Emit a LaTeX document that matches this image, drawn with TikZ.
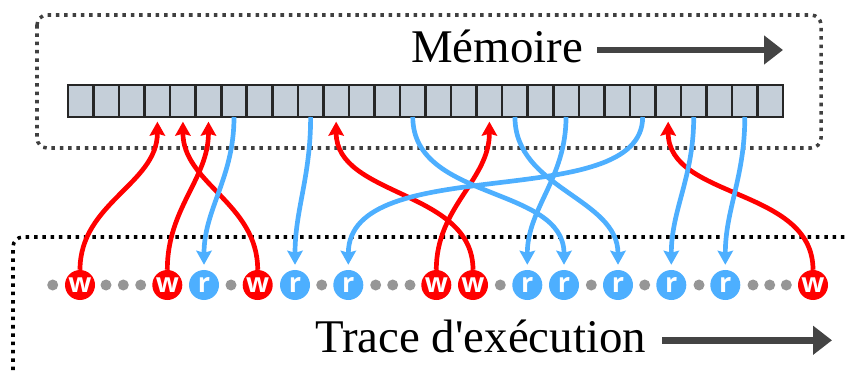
\documentclass[tikz,border=0pt]{standalone}
\usepackage{fontspec}
\setmainfont{Liberation Serif}
\newfontfamily\tagfont{Open Sans}
\usetikzlibrary{arrows.meta}

\definecolor{wred}{RGB}{255,0,0}
\definecolor{rblue}{RGB}{77,175,255}
\definecolor{cellgray}{RGB}{197,207,217}
\definecolor{idlegray}{RGB}{150,150,150}
\definecolor{flowgray}{RGB}{68,68,68}

\tikzstyle{cell} = [rectangle, draw=black!85, line width=2.2pt, fill=cellgray,
minimum width=0.766cm, minimum height=0.96cm, inner sep=0pt, outer sep=0pt]
\tikzstyle{wnode} = [circle, fill=wred, minimum size=0.9cm, inner sep=0pt,
text=white, font=\tagfont\bfseries\fontsize{23}{23}\selectfont]
\tikzstyle{rnode} = [circle, fill=rblue, minimum size=0.9cm, inner sep=0pt,
text=white, font=\tagfont\bfseries\fontsize{23}{23}\selectfont]
\tikzstyle{idle} = [circle, fill=idlegray, minimum size=0.33cm, inner sep=0pt]
\tikzstyle{warrow} = [wred, line width=4pt, shorten >=0.14cm,
-{Stealth[length=0.42cm, width=0.46cm, inset=0.06cm]}]
\tikzstyle{rarrow} = [rblue, line width=4pt, shorten >=0.15cm,
-{Stealth[length=0.42cm, width=0.46cm, inset=0.06cm]}]
\tikzstyle{zone} = [line width=3pt, dash pattern=on 3pt off 4.1pt, rounded corners=0.3cm]
\tikzstyle{flow} = [flowgray, line width=5.8pt, -{Triangle[length=0.57cm, width=0.84cm]}]
\tikzstyle{heading} = [font=\fontsize{40}{40}\selectfont, anchor=base west, inner sep=0pt]

\begin{document}
\begin{tikzpicture}[x=0.03cm, y=-0.03cm]

  \useasboundingbox (0,0) rectangle (846,374);
  \clip (0,0) rectangle (846,374);

  % frames
  \draw [zone, black!75] (37,15) rectangle (821,148);
  \draw [zone, black] (13,420) |- (900,237);

  % memory
  \foreach \i in {0,...,27}
    \node (m\i) [cell] at ({68+25.54*(\i+0.5)},101) {};

  \node (memtitle) [heading] at (411,62.7) {Mémoire};
  \coordinate (memfrom) at (597,50);
  \coordinate (memto) at (783,50);
  \draw [flow] (memfrom) -- (memto);

  % execution trace
  \foreach \x [count=\i] in {52.7,106,123.3,140.7,231,321.7,375.7,392.7,410,
                             500.3,591.3,644.7,699,753,769.7,786.3}
    \node (d\i) [idle] at (\x,285) {};

  \node (w1) [wnode] at (80,285) {w};
  \node (w2) [wnode] at (167.3,285) {w};
  \node (r1) [rnode] at (204,285) {r};
  \node (w3) [wnode] at (257.7,285) {w};
  \node (r2) [rnode] at (295,285) {r};
  \node (r3) [rnode] at (348.3,285) {r};
  \node (w4) [wnode] at (436.3,285) {w};
  \node (w5) [wnode] at (473,285) {w};
  \node (r4) [rnode] at (527.3,285) {r};
  \node (r5) [rnode] at (564,285) {r};
  \node (r6) [rnode] at (618,285) {r};
  \node (r7) [rnode] at (671.3,285) {r};
  \node (r8) [rnode] at (725.3,285) {r};
  \node (w6) [wnode] at (813,285) {w};

  \node (tracetitle) [heading] at (315,352.7) {Trace d\textquotesingle exécution};
  \coordinate (tracefrom) at (662,340.3);
  \coordinate (traceto) at (832,340.3);
  \draw [flow] (tracefrom) -- (traceto);

  % writes
  \draw [warrow] (w1) to[out=90, in=-90] (m3);
  \draw [warrow] (w2) to[out=90, in=-90] (m5);
  \draw [warrow] (w3) to[out=90, in=-90] (m4);
  \draw [warrow] (w4) to[out=90, in=-90] (m16);
  \draw [warrow] (w5) to[out=90, in=-90] (m10);
  \draw [warrow] (w6) to[out=90, in=-90] (m23);

  % reads
  \draw [rarrow] (m6) to[out=-90, in=90] (r1);
  \draw [rarrow] (m9) to[out=-90, in=90] (r2);
  \draw [rarrow] (m22.south) .. controls +(0,98) and +(0,-120) .. (r3.north);
  \draw [rarrow] (m19) to[out=-90, in=90] (r4);
  \draw [rarrow] (m13) to[out=-90, in=90] (r5);
  \draw [rarrow] (m17) to[out=-90, in=90] (r6);
  \draw [rarrow] (m24) to[out=-90, in=90] (r7);
  \draw [rarrow] (m26) to[out=-90, in=90] (r8);

\end{tikzpicture}
\end{document}
